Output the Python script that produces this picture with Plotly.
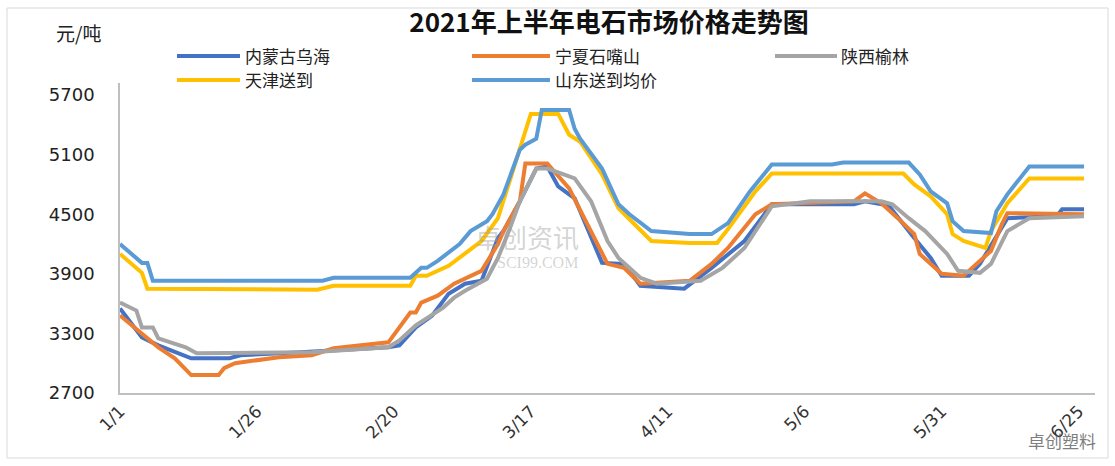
import plotly.graph_objects as go

# ---------------- data ----------------
series_names = ["内蒙古乌海", "宁夏石嘴山", "陕西榆林", "天津送到", "山东送到均价"]
series_colors = ["#4472C4", "#ED7D31", "#A5A5A5", "#FFC000", "#5B9BD5"]

nm_dates = ["2021-01-01", "2021-01-05", "2021-01-08", "2021-01-11", "2021-01-14", "2021-01-21", "2021-01-23",
            "2021-02-03", "2021-02-19", "2021-02-21", "2021-02-24", "2021-02-27", "2021-03-02", "2021-03-05",
            "2021-03-08", "2021-03-11", "2021-03-12", "2021-03-15", "2021-03-18", "2021-03-20", "2021-03-22",
            "2021-03-25", "2021-03-28", "2021-03-30", "2021-04-03", "2021-04-06", "2021-04-14", "2021-04-19",
            "2021-04-25", "2021-04-30", "2021-05-15", "2021-05-17", "2021-05-20", "2021-05-21", "2021-05-26",
            "2021-05-29", "2021-05-31", "2021-06-05", "2021-06-07", "2021-06-12", "2021-06-21", "2021-06-22",
            "2021-06-26"]
nm_vals = [3550, 3260, 3180, 3110, 3050, 3050, 3080,
           3110, 3160, 3180, 3360, 3480, 3700, 3800,
           3830, 4260, 4330, 4630, 4960, 4980, 4780,
           4660, 4260, 4010, 4000, 3780, 3750, 3960,
           4230, 4600, 4600, 4630, 4600, 4610, 4260,
           4060, 3880, 3880, 4000, 4460, 4480, 4550,
           4550]

nx_dates = ["2021-01-01", "2021-01-05", "2021-01-08", "2021-01-11", "2021-01-14", "2021-01-19", "2021-01-20",
            "2021-01-22", "2021-01-26", "2021-01-30", "2021-02-05", "2021-02-09", "2021-02-19", "2021-02-23",
            "2021-02-24", "2021-02-25", "2021-02-28", "2021-03-03", "2021-03-08", "2021-03-11", "2021-03-12",
            "2021-03-15", "2021-03-16", "2021-03-20", "2021-03-24", "2021-03-28", "2021-03-31", "2021-04-03",
            "2021-04-06", "2021-04-15", "2021-04-19", "2021-04-22", "2021-04-27", "2021-04-30", "2021-05-15",
            "2021-05-17", "2021-05-20", "2021-05-23", "2021-05-26", "2021-05-27", "2021-05-31", "2021-06-04",
            "2021-06-09", "2021-06-11", "2021-06-12", "2021-06-26"]
nx_vals = [3480, 3300, 3160, 3050, 2880, 2880, 2950,
           3000, 3030, 3060, 3080, 3150, 3210, 3510,
           3510, 3610, 3680, 3800, 3930, 4200, 4330,
           4630, 5010, 5010, 4760, 4330, 4000, 3960,
           3800, 3830, 4000, 4160, 4500, 4600, 4630,
           4710, 4610, 4460, 4300, 4100, 3900, 3880,
           4130, 4400, 4510, 4500]

sx_dates = ["2021-01-01", "2021-01-04", "2021-01-05", "2021-01-07", "2021-01-08", "2021-01-13", "2021-01-15",
            "2021-02-05", "2021-02-19", "2021-02-21", "2021-02-24", "2021-03-01", "2021-03-03", "2021-03-05",
            "2021-03-09", "2021-03-11", "2021-03-13", "2021-03-15", "2021-03-18", "2021-03-20", "2021-03-23",
            "2021-03-25", "2021-03-28", "2021-03-31", "2021-04-02", "2021-04-06", "2021-04-09", "2021-04-17",
            "2021-04-21", "2021-04-25", "2021-04-30", "2021-05-07", "2021-05-20", "2021-05-22", "2021-05-25",
            "2021-05-28", "2021-06-01", "2021-06-03", "2021-06-07", "2021-06-09", "2021-06-12", "2021-06-16",
            "2021-06-26"]
sx_vals = [3610, 3530, 3360, 3360, 3250, 3160, 3100,
           3110, 3160, 3230, 3380, 3560, 3660, 3730,
           3850, 4060, 4330, 4630, 4960, 4960, 4900,
           4860, 4630, 4230, 4060, 3860, 3800, 3830,
           3960, 4160, 4580, 4630, 4630, 4600, 4460,
           4330, 4100, 3930, 3910, 4000, 4330, 4460,
           4480]

tj_dates = ["2021-01-01", "2021-01-05", "2021-01-06", "2021-02-06", "2021-02-09", "2021-02-23", "2021-02-24",
            "2021-02-26", "2021-03-02", "2021-03-04", "2021-03-08", "2021-03-11", "2021-03-12", "2021-03-15",
            "2021-03-17", "2021-03-22", "2021-03-24", "2021-03-26", "2021-03-30", "2021-04-02", "2021-04-08",
            "2021-04-15", "2021-04-20", "2021-04-22", "2021-04-27", "2021-04-30", "2021-05-24", "2021-05-26",
            "2021-05-29", "2021-06-01", "2021-06-02", "2021-06-04", "2021-06-08", "2021-06-09", "2021-06-12",
            "2021-06-16", "2021-06-26"]
tj_vals = [4100, 3910, 3750, 3740, 3780, 3780, 3880,
           3880, 3980, 4060, 4230, 4460, 4630, 5160,
           5510, 5510, 5300, 5230, 4900, 4560, 4230,
           4210, 4210, 4350, 4730, 4910, 4910, 4800,
           4680, 4500, 4300, 4230, 4160, 4330, 4610,
           4860, 4860]

sd_dates = ["2021-01-01", "2021-01-05", "2021-01-06", "2021-01-07", "2021-02-07", "2021-02-09", "2021-02-23",
            "2021-02-25", "2021-02-26", "2021-02-28", "2021-03-04", "2021-03-06", "2021-03-09", "2021-03-10",
            "2021-03-12", "2021-03-15", "2021-03-16", "2021-03-18", "2021-03-19", "2021-03-24", "2021-03-25",
            "2021-03-26", "2021-03-30", "2021-04-02", "2021-04-04", "2021-04-08", "2021-04-15", "2021-04-19",
            "2021-04-22", "2021-04-26", "2021-04-30", "2021-05-11", "2021-05-13", "2021-05-25", "2021-05-27",
            "2021-05-29", "2021-06-01", "2021-06-02", "2021-06-04", "2021-06-09", "2021-06-10", "2021-06-12",
            "2021-06-16", "2021-06-26"]
sd_vals = [4200, 4010, 4010, 3830, 3830, 3860, 3860,
           3960, 3960, 4030, 4200, 4330, 4430, 4500,
           4700, 5150, 5200, 5260, 5550, 5550, 5360,
           5260, 4960, 4600, 4500, 4330, 4300, 4300,
           4410, 4730, 5000, 5000, 5020, 5020, 4900,
           4730, 4610, 4430, 4330, 4310, 4530, 4700,
           4980, 4980]

x_tick_vals = ["2021-01-01", "2021-01-26", "2021-02-20", "2021-03-17", "2021-04-11", "2021-05-06", "2021-05-31", "2021-06-25"]
x_tick_text = ["1/1", "1/26", "2/20", "3/17", "4/11", "5/6", "5/31", "6/25"]
y_tick_vals = [2700, 3300, 3900, 4500, 5100, 5700]

title_text = "2021年上半年电石市场价格走势图"
unit_text = "元/吨"

# ---------------- figure ----------------
W, H = 1115, 466
ML, MR, MT, MB = 120, 20, 83, 73
PW, PH = W - ML - MR, H - MT - MB


def px_to_paper_x(px):
    return (px - ML) / PW


def px_to_paper_y(py):
    return 1 + (MT - py) / PH


all_dates = [nm_dates, nx_dates, sx_dates, tj_dates, sd_dates]
all_vals = [nm_vals, nx_vals, sx_vals, tj_vals, sd_vals]

fig = go.Figure()
for name, color, xs, ys in zip(series_names, series_colors, all_dates, all_vals):
    fig.add_trace(go.Scatter(x=xs, y=ys, mode="lines", name=name, showlegend=False,
                             line=dict(color=color, width=4, shape="linear")))

cjk = "Noto Sans CJK SC, sans-serif"
num_font = "DejaVu Sans, sans-serif"

fig.update_layout(
    width=W, height=H,
    margin=dict(l=ML, r=MR, t=MT, b=MB),
    paper_bgcolor="white", plot_bgcolor="white",
    font=dict(family=num_font, color="#222222", size=15),
    title=dict(text="<b>" + title_text + "</b>", x=609 / W, xanchor="center", y=1 - 23 / H, yanchor="middle",
               font=dict(family=cjk, size=26, color="#111111")),
    showlegend=False,
    xaxis=dict(type="date", range=["2021-01-01", "2021-06-28"],
               tickmode="array", tickvals=x_tick_vals, ticktext=x_tick_text,
               tickangle=-45, showgrid=False, zeroline=False,
               showline=True, linecolor="#BFBFBF", linewidth=1.5,
               ticks="", tickfont=dict(family=num_font, size=17, color="#333333")),
    yaxis=dict(range=[2700, 5821], tickmode="array", tickvals=y_tick_vals,
               showgrid=False, zeroline=False, showline=True, linecolor="#BFBFBF", linewidth=1.5,
               ticks="", ticklabelstandoff=20, tickfont=dict(family=num_font, size=18, color="#222222")),
)

# manual legend (two rows, three columns)
legend_line_x = [(177, 240), (472, 550), (775, 837), (177, 240), (472, 550)]
legend_text_x = [244, 554, 840, 244, 554]
legend_row_y = [56, 56, 56, 80, 80]
for name, color, (lx0, lx1), tx, ry in zip(series_names, series_colors, legend_line_x, legend_text_x, legend_row_y):
    fig.add_shape(type="line", xref="paper", yref="paper",
                  x0=px_to_paper_x(lx0), x1=px_to_paper_x(lx1),
                  y0=px_to_paper_y(ry), y1=px_to_paper_y(ry),
                  line=dict(color=color, width=4))
    fig.add_annotation(text=name, xref="paper", yref="paper", x=px_to_paper_x(tx), y=px_to_paper_y(ry),
                       xanchor="left", yanchor="middle", showarrow=False, borderpad=0,
                       font=dict(family=cjk, size=17, color="#222222"))

fig.add_annotation(text=unit_text, xref="paper", yref="paper", x=px_to_paper_x(78), y=px_to_paper_y(33),
                   xanchor="center", yanchor="middle", showarrow=False,
                   font=dict(family=cjk, size=19, color="#222222"))

# watermarks
fig.add_annotation(text="卓创资讯", xref="paper", yref="paper", x=px_to_paper_x(527), y=px_to_paper_y(236),
                   xanchor="center", yanchor="middle", showarrow=False,
                   font=dict(family=cjk, size=26, color="rgba(160,160,160,0.45)"))
fig.add_annotation(text="SCI99.COM", xref="paper", yref="paper", x=px_to_paper_x(537), y=px_to_paper_y(262),
                   xanchor="center", yanchor="middle", showarrow=False,
                   font=dict(family="Liberation Serif, serif", size=16, color="rgba(160,160,160,0.45)"))
fig.add_annotation(text="卓创塑料", xref="paper", yref="paper", x=px_to_paper_x(1098), y=px_to_paper_y(440),
                   xanchor="right", yanchor="middle", showarrow=False,
                   font=dict(family=cjk, size=17, color="rgba(90,90,90,0.8)"))

# chart-area border
fig.add_shape(type="rect", xref="paper", yref="paper",
              x0=px_to_paper_x(7), x1=px_to_paper_x(1108), y0=px_to_paper_y(458), y1=px_to_paper_y(8),
              line=dict(color="#D9D9D9", width=1), fillcolor="rgba(0,0,0,0)", layer="below")

fig.write_html("out.html", post_script="document.body.style.margin='0';",
               config={"displayModeBar": False})
